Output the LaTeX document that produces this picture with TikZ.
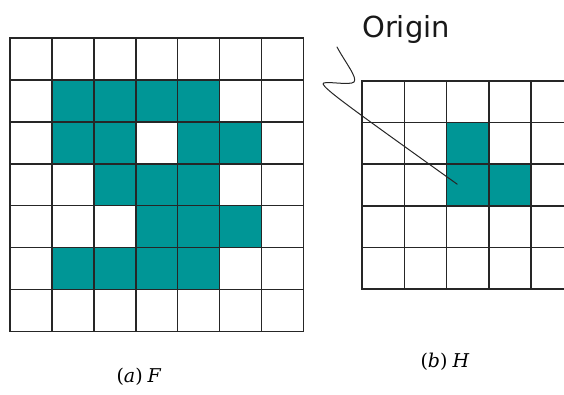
\documentclass[tikz,border=0pt]{standalone}
\usepackage{fontspec}
\newfontfamily\labelfont{DejaVu Sans}
\newfontfamily\capfont{DejaVu Serif}
\definecolor{teal}{RGB}{0,150,150}
\tikzset{
  gridline/.style={line width=1.6pt, draw=black!85, line cap=rect},
  cellfill/.style={fill=teal},
  pointer/.style={line width=1pt, draw=black!85, line cap=round, line join=round},
  caption/.style={font=\capfont\fontsize{19}{22}\selectfont, inner sep=0pt}
}
\begin{document}
\begin{tikzpicture}[x=1pt,y=-1pt]
\useasboundingbox (0,0) rectangle (564,394);
% ---------- left grid F (7x7) ----------
\begin{scope}[shift={(10,38)}, x=41.9pt, y=-41.9pt]
  \foreach \r/\c in {1/1,1/2,1/3,1/4, 2/1,2/2,2/4,2/5, 3/2,3/3,3/4, 4/3,4/4,4/5, 5/1,5/2,5/3,5/4}
    \fill[cellfill] (\c,\r) rectangle ++(1,1);
  \foreach \i in {0,...,7} {
    \draw[gridline] (\i,0) -- (\i,7);
    \draw[gridline] (0,\i) -- (7,\i);
  }
\end{scope}
% ---------- right grid H (cropped) ----------
\begin{scope}
  \clip (0,0) rectangle (564,394);
  \begin{scope}[shift={(362,81)}, x=42.3pt, y=-41.6pt]
    \foreach \r/\c in {1/2, 2/2, 2/3}
      \fill[cellfill] (\c,\r) rectangle ++(1,1);
    \foreach \i in {0,...,6}
      \draw[gridline] (\i,0) -- (\i,5);
    \foreach \j in {0,...,5}
      \draw[gridline] (0,\j) -- (6,\j);
    \coordinate (originpt) at (2.25,2.48);
  \end{scope}
\end{scope}
% ---------- Origin label and pointer ----------
\node[font=\labelfont\fontsize{29}{32}\selectfont, anchor=base west, inner sep=0pt, text=black!90] (origin) at (362,37) {Origin};
\coordinate (ptrstart) at (337,47);
\draw[pointer] (ptrstart) .. controls (345,62) and (358,78) .. (354,82)
  .. controls (350,86) and (322,80) .. (323,84)
  .. controls (326,90) and (345,104) .. (originpt);
% ---------- captions ----------
\node[caption, anchor=base] (capF) at (139,382) {(\textit{a})\hspace{5pt}\textit{F}};
\node[caption, anchor=base] (capH) at (445,367) {(\textit{b})\hspace{5pt}\textit{H}};
\end{tikzpicture}
\end{document}
